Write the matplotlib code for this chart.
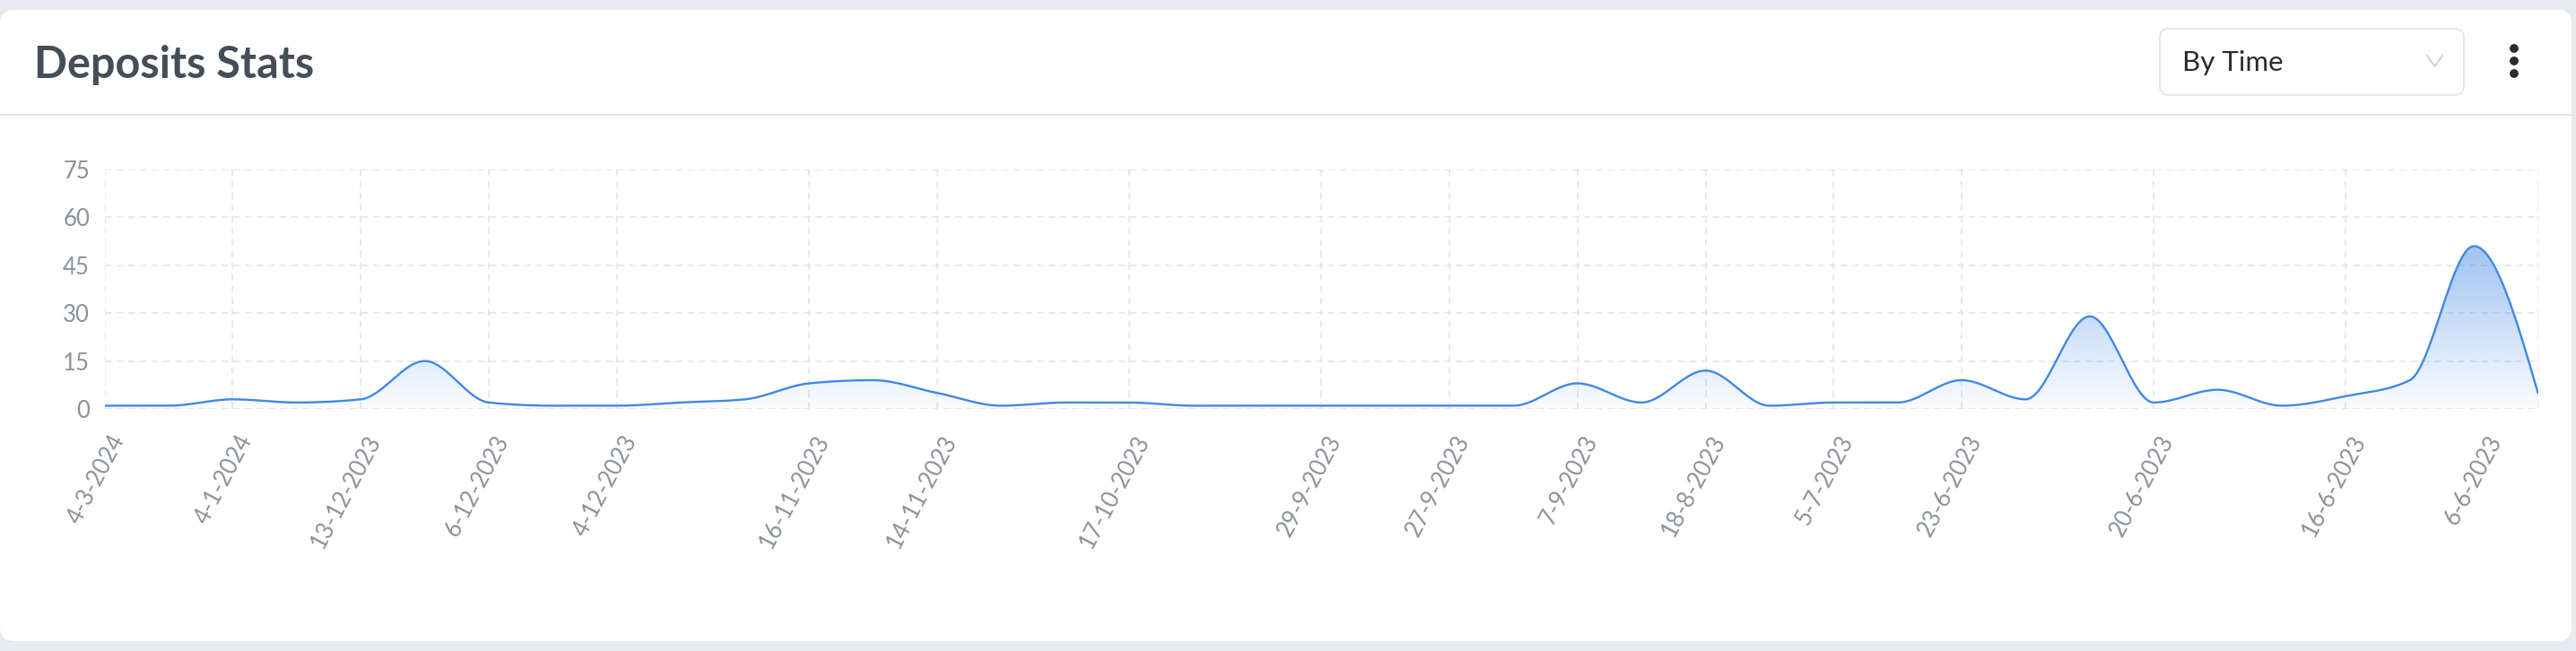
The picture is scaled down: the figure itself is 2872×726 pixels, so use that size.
import numpy as np
import matplotlib
matplotlib.use("Agg")
import matplotlib.pyplot as plt
from matplotlib.patches import FancyBboxPatch, Polygon, Circle
from matplotlib.transforms import ScaledTranslation

plt.rcParams['font.family'] = ['Lato', 'DejaVu Sans']

# ---------------- data ----------------
deposits = [1, 1, 3, 2, 3, 15, 2, 1, 1, 2, 3, 8, 9, 5, 1, 2, 2, 1, 1, 1,
            1, 1, 1, 8, 2, 12, 1, 2, 2, 9, 3, 29, 2, 6, 1, 4, 9, 51, 5]
tick_idx = [0, 2, 4, 6, 8, 11, 13, 16, 19, 21, 23, 25, 27, 29, 32, 35, 38]
tick_labels = ['4-3-2024', '4-1-2024', '13-12-2023', '6-12-2023', '4-12-2023',
               '16-11-2023', '14-11-2023', '17-10-2023', '29-9-2023', '27-9-2023',
               '7-9-2023', '18-8-2023', '5-7-2023', '23-6-2023', '20-6-2023',
               '16-6-2023', '6-6-2023']
y_ticks = [0, 15, 30, 45, 60, 75]

LINE = '#3f88e6'
GRID = '#e3e3e3'
LABEL = '#8c9199'


#----------------- smooth (monotone cubic) curve -------------------
def monotone_curve(x, y, steps=30):
    x = np.asarray(x, float)
    y = np.asarray(y, float)
    h = np.diff(x)
    s = np.diff(y) / h
    n = len(x)
    t = np.zeros(n)
    for i in range(1, n - 1):
        p = (s[i-1]*h[i] + s[i]*h[i-1]) / (h[i-1] + h[i])
        t[i] = (np.sign(s[i-1]) + np.sign(s[i])) * min(abs(s[i-1]), abs(s[i]), 0.5*abs(p))
    t[0] = (3*s[0] - t[1]) / 2
    t[-1] = (3*s[-1] - t[-2]) / 2
    xs, ys = [], []
    for i in range(n - 1):
        u = np.linspace(0, 1, steps, endpoint=(i == n - 2))
        h00 = 2*u**3 - 3*u**2 + 1
        h10 = u**3 - 2*u**2 + u
        h01 = -2*u**3 + 3*u**2
        h11 = u**3 - u**2
        xs.append(x[i] + h[i]*u)
        ys.append(h00*y[i] + h10*h[i]*t[i] + h01*y[i+1] + h11*h[i]*t[i+1])
    return np.concatenate(xs), np.concatenate(ys)


W, H = 2872, 726
fig = plt.figure(figsize=(W/100, H/100), dpi=100)
fig.patch.set_facecolor('#e9eaef')

# background / card in pixel coords
bg = fig.add_axes([0, 0, 1, 1], zorder=0)
bg.set_xlim(0, W)
bg.set_ylim(H, 0)
bg.axis('off')
bg.add_patch(FancyBboxPatch((0, 11), 2867, 704, boxstyle='round,pad=0,rounding_size=16',
                            facecolor='white', edgecolor='none'))
bg.plot([0, 2867], [128, 128], color='#e6e6e6', lw=1.5)
bg.text(38, 87, 'Deposits Stats', fontsize=35, fontweight='bold', color='#454d58', va='baseline')

# dropdown
bg.add_patch(FancyBboxPatch((2408, 32), 339, 74, boxstyle='round,pad=0,rounding_size=10',
                            facecolor='white', edgecolor='#e2e2e2', lw=1.2))
bg.text(2433, 79, 'By Time', fontsize=22.5, color='#2b2b2b', va='baseline')
bg.plot([2706, 2714.5, 2723], [62, 74, 62], color='#c4c4c4', lw=1.1)
for yy in (54, 68, 82):
    bg.add_patch(Circle((2803, yy), 4.2, color='#2b2b2b'))

# ---------------- chart ----------------
x0, x1 = 116.7, 2829.6
yb, yt = 456, 189
ax = fig.add_axes([x0/W, (H - yb)/H, (x1 - x0)/W, (yb - yt)/H], zorder=1)
ax.patch.set_alpha(0)

xi = np.arange(len(deposits))
xs, ys = monotone_curve(xi, deposits)

ymax = max(deposits)
grad = np.zeros((256, 1, 4))
r, g, b = matplotlib.colors.to_rgb(LINE)
grad[..., 0], grad[..., 1], grad[..., 2] = r, g, b
grad[:, 0, 3] = np.linspace(0.02, 0.5, 256)
im = ax.imshow(grad, extent=(xi[0], xi[-1], 0, ymax), origin='lower', aspect='auto', zorder=1)
poly = Polygon(np.column_stack([np.r_[xs, xs[-1], xs[0]], np.r_[ys, 0, 0]]),
               closed=True, facecolor='none', edgecolor='none', transform=ax.transData)
ax.add_patch(poly)
im.set_clip_path(poly)

ax.plot(xs, ys, color=LINE, lw=1.7, zorder=3, solid_capstyle='round')

ax.set_xlim(xi[0], xi[-1])
ax.set_ylim(0, 75)
ax.set_yticks(y_ticks)
ax.set_xticks(tick_idx)
ax.set_xticklabels(tick_labels, rotation=62, ha='right', va='center', rotation_mode='anchor')
ax.tick_params(axis='both', length=0, colors=LABEL, labelsize=18.5)
ax.tick_params(axis='y', pad=12)
ax.tick_params(axis='x', pad=0)
labs = ax.get_xticklabels()
for i, lab in enumerate(labs):
    # last label is pulled inside the plot edge, as in the original
    dx = 16 if i < len(labs) - 1 else -46
    lab.set_transform(lab.get_transform() + ScaledTranslation(dx/100, -31/100, fig.dpi_scale_trans))

ax.grid(True, color=GRID, lw=1.1, linestyle=(0, (5, 3.5)), zorder=0)
ax.set_axisbelow(True)
for sp in ax.spines.values():
    sp.set_visible(False)

fig.savefig('out.png', dpi=100, facecolor=fig.get_facecolor())
